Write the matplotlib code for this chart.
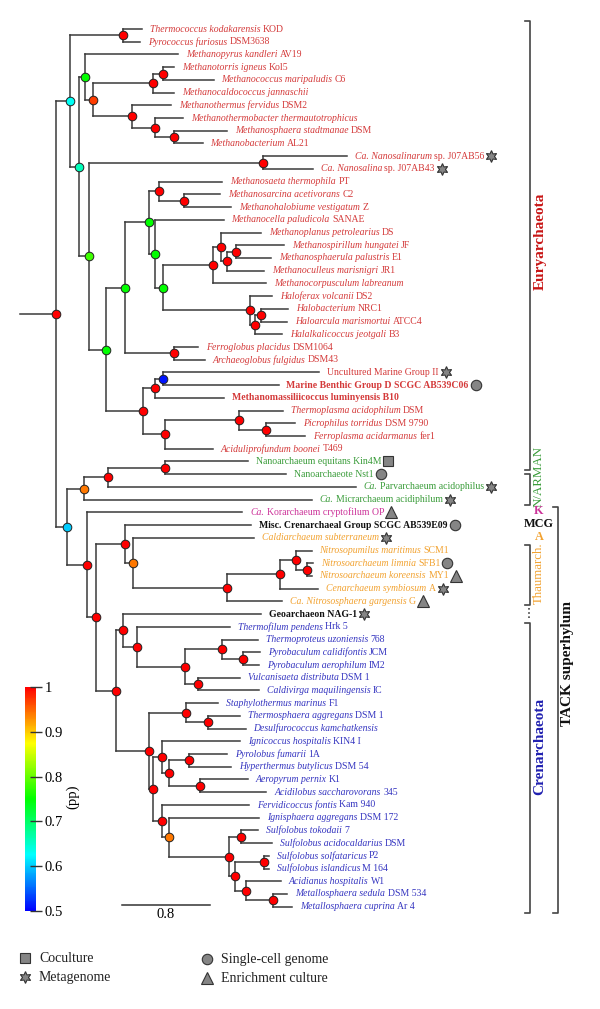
import matplotlib
matplotlib.use("Agg")
import matplotlib.pyplot as plt
import matplotlib.colors as mcolors
import matplotlib.cm as cm
from matplotlib.collections import LineCollection

# -------------------------------
# Data: tree topology (Newick, branch lengths in substitutions/site,
# internal labels = posterior probability), leaf ids L0..L69 top to bottom
# -------------------------------
thermococcales = "(L0:0.17,L1:0.15)1:0.49"
methanococci_bacteria = ("(L2:0.85,(((L3:0.10,L4:0.46)1:0.09,L5:0.19)1:0.55,"
                         "(L6:0.35,(L7:0.25,(L8:0.48,L9:0.26)1:0.17)1:0.21)1:0.36)0.97:0.07)0.75:0.05")
nanohaloarchaea = "(L10:0.76,L11:0.45)1:1.58"
methanomicrobia = ("(((L12:0.58,(L13:0.33,L14:0.43)1:0.23)1:0.09,(L15:0.62,(((L16:0.36,"
                   "((L17:0.44,L18:0.32)1:0.08,L19:0.34)1:0.05)1:0.08,L20:0.49)1:0.45,"
                   "(L21:0.20,((L22:0.25,L23:0.24)1:0.05,L24:0.24)1:0.05)1:0.79)0.75:0.07)0.75:0.06)0.75:0.22,"
                   "(L25:0.22,L26:0.28)1:0.45)0.75:0.17")
thermoplasmata = ("(((L27:1.42,L28:1.05)0.51:0.07,L29:0.62)1:0.11,"
                  "((L30:0.40,(L31:0.26,L32:0.35)1:0.25)1:0.67,L33:0.43)1:0.20)1:0.34")
dpann = "(((L34:0.75,L35:1.10)1:0.52,L36:2.25)1:0.22,L37:2.07)0.94:0.15"
mcg_thaum = ("(L39:1.15,(L40:1.10,(((L41:0.14,(L42:0.05,L43:0.04)1:0.10)1:0.15,"
             "L44:0.35)1:0.48,L45:0.50)1:0.85)0.94:0.08)1:0.26")
thermoproteales = ("(L46:1.25,(L47:0.85,((L48:0.32,(L49:0.15,L50:0.14)1:0.19)1:0.34,"
                   "(L51:0.38,L52:0.55)1:0.12)1:0.44)1:0.12)1:0.07")
desulfurococcales = ("((L53:0.29,(L54:0.29,L55:0.34)1:0.20)1:0.34,((L56:0.71,((L57:0.34,L58:0.38)1:0.19,"
                     "(L59:0.43,L60:0.60)1:0.29)1:0.06)1:0.08,(L61:0.79,(L62:0.82,((L63:0.15,L64:0.28)1:0.11,"
                     "((L65:0.04,L66:0.04)1:0.27,(L67:0.32,(L68:0.13,L69:0.17)1:0.25)1:0.10)1:0.05)1:0.55)"
                     "0.94:0.06)1:0.08)1:0.04)1:0.30")

euryarchaeota = (f"({thermococcales},({methanococci_bacteria},({nanohaloarchaea},"
                 f"({methanomicrobia},{thermoplasmata})0.75:0.15)0.78:0.09)0.66:0.09)0.63:0.12")
dpann_tack = (f"({dpann},(L38:1.41,({mcg_thaum},({thermoproteales},{desulfurococcales})1:0.18)"
              f"1:0.08)1:0.18)0.6:0.10")
newick = f"({euryarchaeota},{dpann_tack})1:0.33;"

leaf_italic = [
    "Thermococcus kodakarensis", "Pyrococcus furiosus", "Methanopyrus kandleri",
    "Methanotorris igneus", "Methanococcus maripaludis", "Methanocaldococcus jannaschii",
    "Methanothermus fervidus", "Methanothermobacter thermautotrophicus",
    "Methanosphaera stadtmanae", "Methanobacterium", "Ca. Nanosalinarum", "Ca. Nanosalina",
    "Methanosaeta thermophila", "Methanosarcina acetivorans", "Methanohalobiume vestigatum",
    "Methanocella paludicola", "Methanoplanus petrolearius", "Methanospirillum hungatei",
    "Methanosphaerula palustris", "Methanoculleus marisnigri", "Methanocorpusculum labreanum",
    "Haloferax volcanii", "Halobacterium", "Haloarcula marismortui", "Halalkalicoccus jeotgali",
    "Ferroglobus placidus", "Archaeoglobus fulgidus", "", "", "",
    "Thermoplasma acidophilum", "Picrophilus torridus", "Ferroplasma acidarmanus",
    "Aciduliprofundum boonei", "", "", "Ca.", "Ca.", "Ca.", "",
    "Caldiarchaeum subterraneum", "Nitrosopumilus maritimus", "Nitrosoarchaeum limnia",
    "Nitrosoarchaeum koreensis", "Cenarchaeum symbiosum", "Ca. Nitrososphaera gargensis", "",
    "Thermofilum pendens", "Thermoproteus uzoniensis", "Pyrobaculum calidifontis",
    "Pyrobaculum aerophilum", "Vulcanisaeta distributa", "Caldivirga maquilingensis",
    "Staphylothermus marinus", "Thermosphaera aggregans", "Desulfurococcus kamchatkensis",
    "Ignicoccus hospitalis", "Pyrolobus fumarii", "Hyperthermus butylicus", "Aeropyrum pernix",
    "Acidilobus saccharovorans", "Fervidicoccus fontis", "Ignisphaera aggregans",
    "Sulfolobus tokodaii", "Sulfolobus acidocaldarius", "Sulfolobus solfataricus",
    "Sulfolobus islandicus", "Acidianus hospitalis", "Metallosphaera sedula",
    "Metallosphaera cuprina",
]
leaf_roman = [
    "KOD", "DSM3638", "AV19", "Kol5", "C6", "", "DSM2", "", "DSM", "AL21",
    "sp. J07AB56", "sp. J07AB43", "PT", "C2", "Z", "SANAE", "DS", "JF", "E1", "JR1", "",
    "DS2", "NRC1", "ATCC4", "B3", "DSM1064", "DSM43", "Uncultured Marine Group II",
    "Marine Benthic Group D SCGC AB539C06", "Methanomassiliicoccus luminyensis B10",
    "DSM", "DSM 9790", "fer1", "T469", "Nanoarchaeum equitans Kin4M", "Nanoarchaeote Nst1",
    "Parvarchaeum acidophilus", "Micrarchaeum acidiphilum", "Korarchaeum cryptofilum OP",
    "Misc. Crenarchaeal Group SCGC AB539E09", "", "SCM1", "SFB1", "MY1", "A", "G",
    "Geoarchaeon NAG-1", "Hrk 5", "768", "JCM", "IM2", "DSM 1", "IC", "F1", "DSM 1", "",
    "KIN4 I", "1A", "DSM 54", "K1", "345", "Kam 940", "DSM 172", "7", "DSM", "P2", "M 164",
    "W1", "DSM 534", "Ar 4",
]
bold_leaves = [28, 29, 39, 46]

group_names = ["eury", "dpann", "kor", "mcg", "thaum", "geo", "cren"]
group_sizes = [34, 4, 1, 1, 6, 1, 23]
group_colors = {"eury": "#d43a3a", "dpann": "#3a9c3a", "kor": "#cc3399", "mcg": "#111111",
                "thaum": "#f2a230", "geo": "#111111", "cren": "#3535c0"}

leaf_markers = {10: "star", 11: "star", 27: "star", 28: "circle", 34: "square", 35: "circle",
                36: "star", 37: "star", 38: "triangle", 39: "circle", 40: "star", 42: "circle",
                43: "triangle", 44: "star", 45: "triangle", 46: "star"}

# clade brackets: label, leaf-index span, label centre (leaf index), text colour, bold
clade_labels = ["Euryarchaeota", "N/ARMAN", "Thaumarch.", "Crenarchaeota", "TACK superhylum"]
clade_spans = [(-0.63, 34.67), (34.98, 37.42), (40.57, 45.28), (46.7, 69.5), (37.58, 69.5)]
clade_label_pos = [16.67, 35.2, 42.77, 56.37, 49.92]
clade_colors = ["#c81515", "#3a9c3a", "#f2a230", "#2020b0", "#111111"]
clade_bold = [True, False, False, True, True]
small_labels = ["K", "MCG", "A"]
small_label_leaf = [38, 39, 40]
small_label_colors = ["#cc3399", "#111111", "#f2a230"]

legend_labels = ["Coculture", "Metagenome", "Single-cell genome", "Enrichment culture"]
legend_markers = ["square", "star", "circle", "triangle"]

cbar_ticks = [0.5, 0.6, 0.7, 0.8, 0.9, 1.0]
cbar_ticklabels = ["0.5", "0.6", "0.7", "0.8", "0.9", "1"]
scale_len = 0.8

# -------------------------------
# Layout constants (pixels)
# -------------------------------
W, H = 600, 1009
PX_PER_UNIT = 110.0
ROOT_X = 20.0
TOP_Y = 29.0
LEAF_STEP = 12.72
LINE_COL = "#3a3a3a"
SERIF = "Liberation Serif"
LABEL_SIZE = 7.0

MARKER_STYLE = {"star": ((6, 1, 0), 8.5), "circle": ("o", 7.5),
                "square": ("s", 7.0), "triangle": ("^", 8.5)}


def parse_newick(s):
    pos = 0

    def node():
        nonlocal pos
        n = {"children": [], "name": None, "support": None, "bl": 0.0}
        if s[pos] == "(":
            pos += 1
            while True:
                n["children"].append(node())
                if s[pos] == ",":
                    pos += 1
                    continue
                pos += 1  # ')'
                break
        start = pos
        while s[pos] not in ":,);":
            pos += 1
        label = s[start:pos]
        if n["children"]:
            n["support"] = float(label) if label else None
        else:
            n["name"] = label
        if s[pos] == ":":
            pos += 1
            start = pos
            while s[pos] not in ",);":
                pos += 1
            n["bl"] = float(s[start:pos])
        return n

    return node()


def layout(n, x_parent):
    n["x"] = x_parent + n["bl"] * PX_PER_UNIT
    n["px"] = x_parent
    if not n["children"]:
        n["y"] = TOP_Y + int(n["name"][1:]) * LEAF_STEP
    else:
        for c in n["children"]:
            layout(c, n["x"])
        n["y"] = (n["children"][0]["y"] + n["children"][-1]["y"]) / 2


def walk(n):
    yield n
    for c in n["children"]:
        yield from walk(c)


def leaf_y(i):
    return TOP_Y + i * LEAF_STEP


tree = parse_newick(newick)
layout(tree, ROOT_X)

leaf_group = []
for g, k in zip(group_names, group_sizes):
    leaf_group += [g] * k

cmap = mcolors.LinearSegmentedColormap.from_list(
    "pp", ["#0000ff", "#00ffff", "#00ff00", "#ffff00", "#ff0000"])
norm = mcolors.Normalize(0.5, 1.0)

fig = plt.figure(figsize=(W / 100, H / 100), dpi=100)
ax = fig.add_axes([0, 0, 1, 1])
ax.set_xlim(0, W)
ax.set_ylim(H, 0)
ax.axis("off")
renderer = fig.canvas.get_renderer()

# branches
segs = []
for n in walk(tree):
    segs.append([(n["px"], n["y"]), (n["x"], n["y"])])
    if n["children"]:
        segs.append([(n["x"], n["children"][0]["y"]), (n["x"], n["children"][-1]["y"])])
ax.add_collection(LineCollection(segs, colors=LINE_COL, linewidths=1.1, capstyle="projecting"))

# support nodes
for n in walk(tree):
    if n["children"]:
        ax.plot(n["x"], n["y"], "o", ms=6.2, mfc=cmap(norm(n["support"])),
                mec="#222222", mew=0.7, zorder=5)


def draw_marker(x, y, kind, scale=1.0):
    m, ms = MARKER_STYLE[kind]
    ax.plot(x, y, marker=m, ms=ms * scale, mfc="#858585", mec="#333333", mew=0.8,
            linestyle="none", zorder=6)


# leaf labels
space = 0.25 * LABEL_SIZE * 100 / 72
for n in walk(tree):
    if n["children"]:
        continue
    i = int(n["name"][1:])
    col = group_colors[leaf_group[i]]
    x = n["x"] + 8
    y = n["y"]
    end = x
    parts = [(leaf_italic[i], "italic", "normal"),
             (leaf_roman[i], "normal", "bold" if i in bold_leaves else "normal")]
    for txt, style, weight in parts:
        if not txt:
            continue
        t = ax.text(x, y, txt, fontsize=LABEL_SIZE, fontstyle=style, fontweight=weight,
                    color=col, family=SERIF, ha="left", va="center")
        w = t.get_window_extent(renderer).width
        end = x + w
        x = end + space
    if i in leaf_markers:
        draw_marker(end + 7, y, leaf_markers[i])

# clade brackets
for lab, (a, b), lp, colr, bold in zip(clade_labels, clade_spans, clade_label_pos,
                                       clade_colors, clade_bold):
    y0, y1 = leaf_y(a), leaf_y(b)
    bx = 558 if lab.startswith("TACK") else 530
    ax.plot([bx - 5, bx, bx, bx - 5], [y0, y0, y1, y1], color="#444444", lw=1.2)
    size = 11 if bold else 9.3
    ax.text(bx + (10 if bold else 9), leaf_y(lp), lab, rotation=90, ha="center", va="center",
            color=colr, fontsize=size, fontweight="bold" if bold else "normal", family=SERIF)
# dotted gap between Thaumarchaeota and Crenarchaeota
ax.plot([529, 529], [leaf_y(45.5), leaf_y(46.5)], color="#444444", lw=1.2, ls=(0, (1, 1.5)))
for lab, i, colr in zip(small_labels, small_label_leaf, small_label_colors):
    ax.text(539, leaf_y(i) - 1, lab, ha="center", va="center", color=colr, fontsize=8.8,
            fontweight="bold", family=SERIF)

# scale bar
sb_y = 905
ax.plot([122, 122 + scale_len * PX_PER_UNIT], [sb_y, sb_y], color="#333333", lw=1.1)
ax.text(122 + scale_len * PX_PER_UNIT / 2, sb_y + 10, f"{scale_len}", ha="center", va="center",
        fontsize=10.5, family=SERIF)

# colour bar
cax = fig.add_axes([25 / W, 1 - 911 / H, 11 / W, 224 / H])
cb = fig.colorbar(cm.ScalarMappable(norm=norm, cmap=cmap), cax=cax)
cb.set_ticks(cbar_ticks)
cb.set_ticklabels(cbar_ticklabels)
cb.outline.set_visible(False)
cax.tick_params(direction="inout", length=8, width=1.0, color="#333333", labelsize=10.5, pad=2)
for tl in cax.get_yticklabels():
    tl.set_family(SERIF)
ax.text(73, 797, "(pp)", rotation=90, ha="center", va="center", fontsize=10.5, family=SERIF)

# legend
leg_pos = [(25, 958), (25, 977), (207, 959), (207, 978)]
for lab, mk, (lx, ly) in zip(legend_labels, legend_markers, leg_pos):
    draw_marker(lx, ly, mk, 1.0)
    ax.text(lx + 14, ly, lab, ha="left", va="center", fontsize=10, family=SERIF, color="#222222")

fig.savefig("out.png", dpi=100)
